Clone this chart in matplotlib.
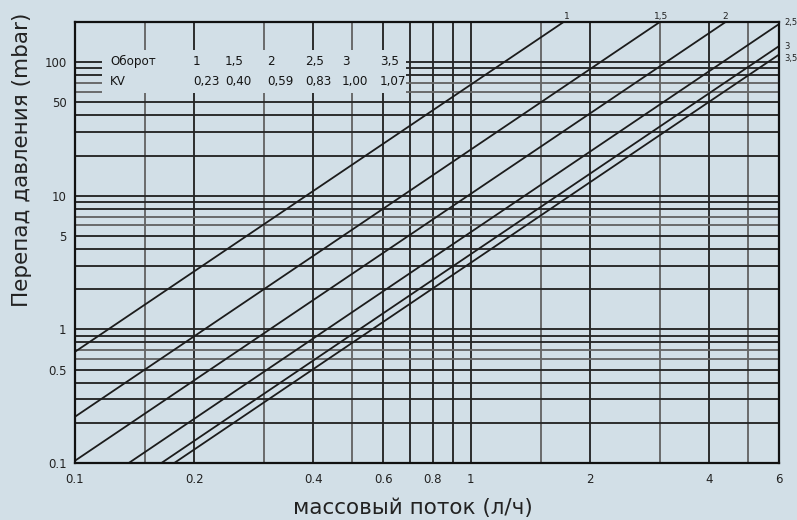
import matplotlib
matplotlib.use("Agg")
import matplotlib.pyplot as plt
from matplotlib.patches import Rectangle

# ---- data ----
flow_ends = [0.1, 6.0]                 # x range of each characteristic line
dp_turn_1 = [0.68, 2450]               # Δp at the two flow ends (mbar)
dp_turn_15 = [0.222, 800]
dp_turn_2 = [0.104, 372]
dp_turn_25 = [0.0535, 193]
dp_turn_3 = [0.0366, 132]
dp_turn_35 = [0.0315, 114]
line_names = ["1", "1,5", "2", "2,5", "3", "3,5"]

table_turns = ["1", "1,5", "2", "2,5", "3", "3,5"]
table_kv = ["0,23", "0,40", "0,59", "0,83", "1,00", "1,07"]

x_ticks = [0.1, 0.2, 0.4, 0.6, 0.8, 1, 2, 4, 6]
x_ticklabels = ["0.1", "0.2", "0.4", "0.6", "0.8", "1", "2", "4", "6"]
y_ticks = [0.1, 0.5, 1, 5, 10, 50, 100]
y_ticklabels = ["0.1", "0.5", "1", "5", "10", "50", "100"]

x_grid = [0.15, 0.2, 0.3, 0.4, 0.5, 0.6, 0.7, 0.8, 0.9, 1, 1.5, 2, 3, 4, 5]
y_grid = [0.2, 0.3, 0.4, 0.5, 0.6, 0.7, 0.8, 0.9, 1, 2, 3, 4, 5, 6, 7, 8, 9,
          10, 20, 30, 40, 50, 60, 70, 80, 90, 100]
x_grid_light = [0.15, 0.3, 0.5, 1.5, 3, 5]
y_grid_light = [0.6, 0.7, 6, 7, 60, 70]

# ---- style ----
BG = "#d2dfe7"
INK = "#1c1c1c"
plt.rcParams['font.family'] = ['DejaVu Sans']

fig = plt.figure(figsize=(7.97, 5.20), dpi=100, facecolor=BG)
ax = fig.add_axes([75/797, (520-463)/520, (779-75)/797, (463-22)/520])
ax.set_facecolor(BG)
ax.set_xscale("log")
ax.set_yscale("log")
ax.set_xlim(0.1, 6)
ax.set_ylim(0.1, 200)

for xv in x_grid:
    ax.axvline(xv, color="#666666" if xv in x_grid_light else "#262626",
               lw=1.35, zorder=1)
for yv in y_grid:
    ax.axhline(yv, color="#666666" if yv in y_grid_light else "#262626",
               lw=1.35, zorder=1)

# table background patch covering grid
ax.add_patch(Rectangle((0.117, 58.5), 0.687 - 0.117, 123 - 58.5,
                       facecolor=BG, edgecolor="none", zorder=2))

series = [dp_turn_1, dp_turn_15, dp_turn_2, dp_turn_25, dp_turn_3, dp_turn_35]
for dp in series:
    ax.plot(flow_ends, dp, color=INK, lw=1.3, zorder=3, solid_capstyle="butt")

# line labels
top_label_x = [1.75, 3.02, 4.38]
for name, xv in zip(line_names[:3], top_label_x):
    ax.text(xv, 200 * 1.02, name, fontsize=6.5, color="#222",
            ha="center", va="bottom", clip_on=False)
right_label_y = [197, 132, 106]
for name, yv in zip(line_names[3:], right_label_y):
    ax.annotate(name, xy=(1, yv), xycoords=("axes fraction", "data"),
                xytext=(4, 0), textcoords="offset points", fontsize=6,
                color="#222", ha="left", va="center", annotation_clip=False)

# table text
tfont = dict(family=["DejaVu Sans"], stretch="condensed", fontsize=9.5,
             color="#151515", zorder=4)
row1_y, row2_y = 101, 72
ax.text(0.1225, row1_y, "Оборот", ha="left", va="center", **tfont)
ax.text(0.1225, row2_y, "KV", ha="left", va="center", **tfont)
col_x = [0.1986, 0.2392, 0.3054, 0.3809, 0.4724, 0.5891]
for cx, t, k in zip(col_x, table_turns, table_kv):
    ax.text(cx, row1_y, t, ha="left", va="center", **tfont)
    ax.text(cx, row2_y, k, ha="left", va="center", **tfont)

ax.set_xticks(x_ticks)
ax.set_xticklabels(x_ticklabels)
ax.set_yticks(y_ticks)
ax.set_yticklabels(y_ticklabels)
ax.xaxis.set_minor_locator(matplotlib.ticker.NullLocator())
ax.yaxis.set_minor_locator(matplotlib.ticker.NullLocator())
ax.tick_params(axis="both", length=0, labelsize=8.5, labelcolor="#222")
ax.tick_params(axis="x", pad=7)
ax.tick_params(axis="y", pad=6)

for sp in ax.spines.values():
    sp.set_color("#111")
    sp.set_linewidth(1.6)
    sp.set_zorder(5)

fig.text(413/797, 1 - 508/520, "массовый поток (л/ч)", fontsize=15.5,
         color="#222", ha="center", va="center")
fig.text(22/797, 1 - 160/520, "Перепад давления (mbar)", fontsize=15.5,
         color="#222", ha="center", va="center", rotation=90)

fig.savefig("out.png", dpi=100, facecolor=BG)
